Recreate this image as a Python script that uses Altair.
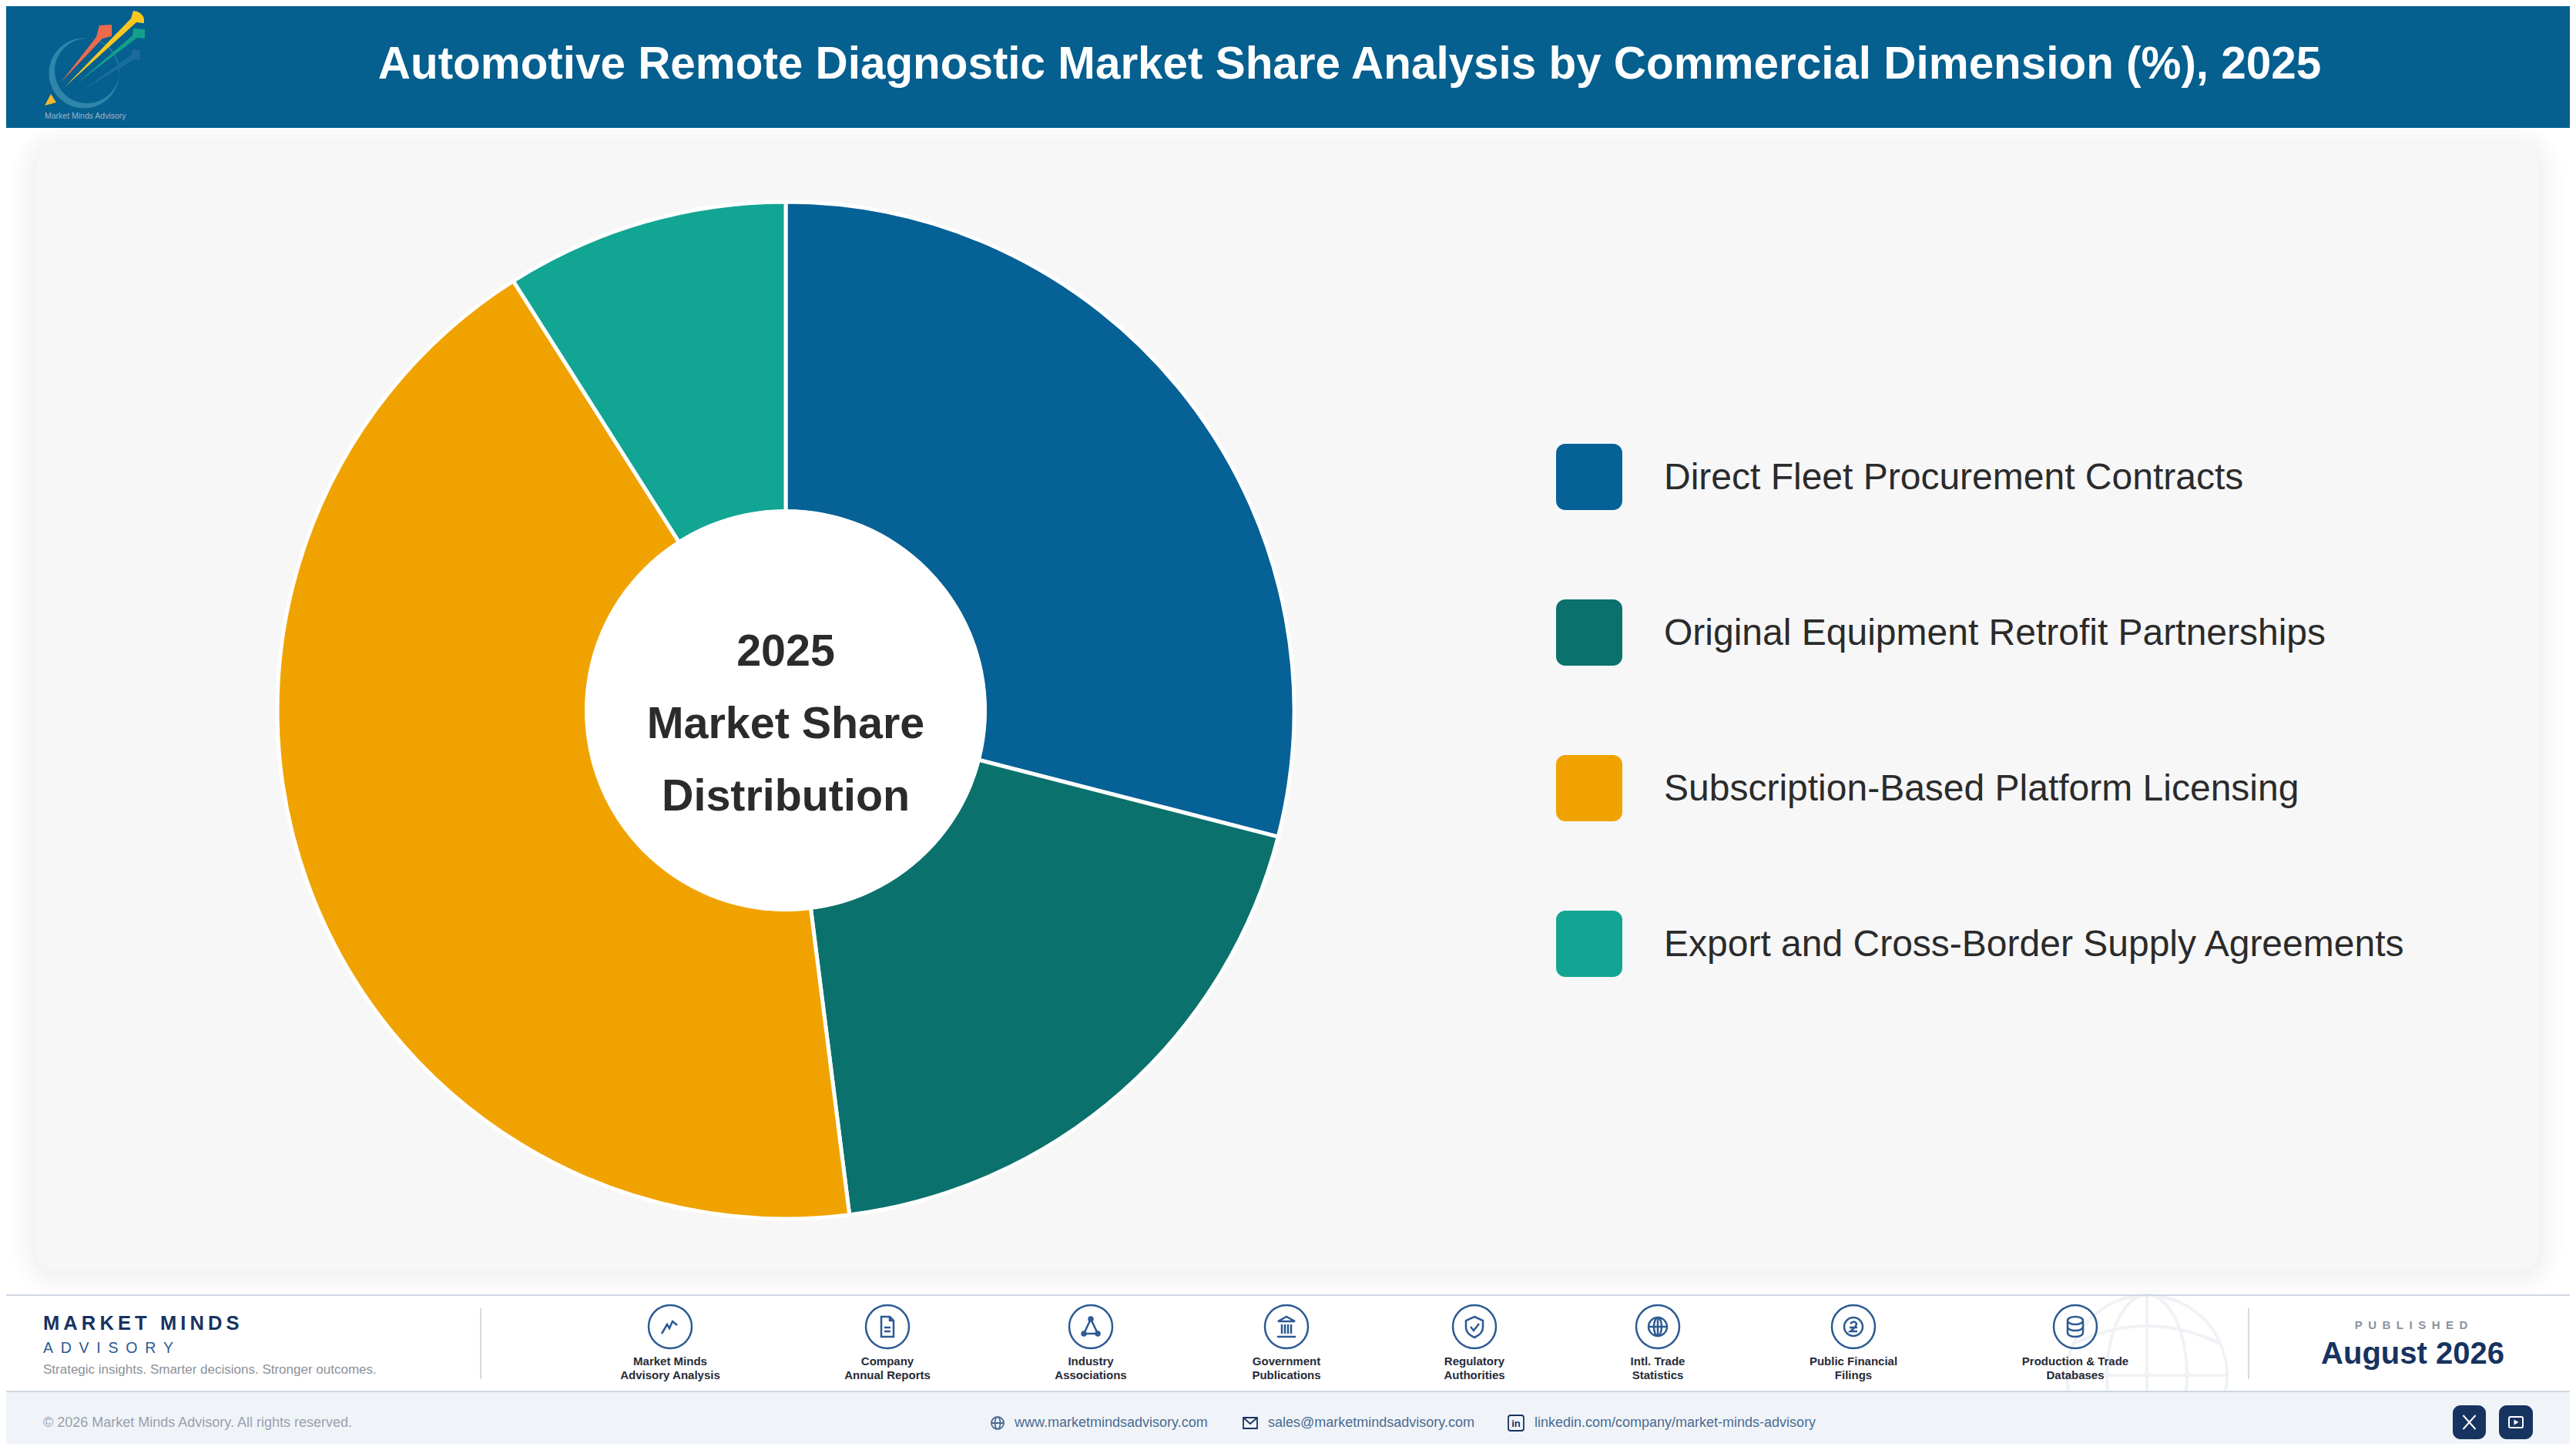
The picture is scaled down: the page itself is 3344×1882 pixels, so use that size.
"""Automotive remote diagnostic market share donut with report header and footer."""

import altair as alt
import pandas as pd

FONT = "Liberation Sans"
THIN = "\u2009"
EN = "\u2002"

# chart values
categories = [
    "Direct Fleet Procurement Contracts",
    "Original Equipment Retrofit Partnerships",
    "Subscription-Based Platform Licensing",
    "Export and Cross-Border Supply Agreements",
]
shares = [29, 19, 43, 9]
slice_colors = ["#066196", "#0B716C", "#F0A300", "#12A594"]

sources = [
    "Market Minds\nAdvisory Analysis",
    "Company\nAnnual Reports",
    "Industry\nAssociations",
    "Government\nPublications",
    "Regulatory\nAuthorities",
    "Intl. Trade\nStatistics",
    "Public Financial\nFilings",
    "Production & Trade\nDatabases",
]
source_x = [870, 1152, 1416, 1670, 1914, 2152, 2406, 2694]

# the page keeps an 8px margin, everything below is given in window pixels
MARGIN = 8
W, H = 3328, 1866
NAVY = "#17335F"
ICON = "#2C5A92"
GREY = "#8C919B"
LINK = "#4A6A90"
DARK = "#2B2B2B"


def box(x0, y0, x1, y1, color, radius=0, opacity=1.0):
    return alt.Chart().mark_rect(
        color=color, cornerRadius=radius, opacity=opacity
    ).encode(
        x=alt.value(x0 - MARGIN),
        x2=alt.value(x1 - MARGIN),
        y=alt.value(y0 - MARGIN),
        y2=alt.value(y1 - MARGIN),
    )


def label(text, x, y, size, color, weight="normal", align="left", line=None):
    props = dict(
        text=text,
        font=FONT,
        fontSize=size,
        fontWeight=weight,
        color=color,
        align=align,
        baseline="alphabetic",
    )
    if line:
        props.update(lineBreak="\n", lineHeight=line)
    return alt.Chart().mark_text(**props).encode(
        x=alt.value(x - MARGIN), y=alt.value(y - MARGIN)
    )


# size=4 keeps a custom symbol path at 1 unit = 1 pixel
def outline(path, x, y, color=ICON, width=2.5):
    return alt.Chart().mark_point(
        shape=path, size=4, filled=False, stroke=color, strokeWidth=width, opacity=1
    ).encode(x=alt.value(x - MARGIN), y=alt.value(y - MARGIN))


def solid(path, x, y, color=ICON):
    return alt.Chart().mark_point(
        shape=path, size=4, filled=True, fill=color, strokeWidth=0, opacity=1
    ).encode(x=alt.value(x - MARGIN), y=alt.value(y - MARGIN))


def ring(r, cx=0, cy=0, ry=None, sweep=1):
    ry = ry or r
    return (
        f"M{cx - r} {cy} A{r} {ry} 0 1 {sweep} {cx + r} {cy} "
        f"A{r} {ry} 0 1 {sweep} {cx - r} {cy} Z"
    )


layers = []

# page furniture
layers.append(box(MARGIN, MARGIN, W + MARGIN, 166, "#055F8F"))
for grow, alpha in [(30, 0.006), (24, 0.007), (18, 0.008), (12, 0.009), (6, 0.01)]:
    layers.append(
        box(47 - grow, 188 - grow + 4, 3296 + grow, 1649 + grow + 4, "#000000", 30 + grow, alpha)
    )
layers.append(box(47, 188, 3296, 1649, "#F7F7F8", 30))

# header logo
layers += [
    solid(ring(45.5, 109, 95) + " " + ring(42, 113, 92, sweep=0), 0, 0, "#2F86AA"),
    solid("M105 118 L170 72 L172 65 L182 65 L181 78 L175 77 Z", 0, 0, "#1B6BA3"),
    solid("M100 108 L172 46 L173 37 L188 38 L188 50 L178 49 Z", 0, 0, "#12A08A"),
    solid("M84 113 L170 24 L173 14 Q185 15 187 25 L187 30 L177 29 Z", 0, 0, "#F9C81E"),
    solid("M79 107 L125 48 L129 33 L145 32 L145 47 L133 50 Z", 0, 0, "#EE6A4D"),
    solid("M58 137 L66 122 L73 133 Z", 0, 0, "#F5B82A"),
    label("Market Minds Advisory", 58, 154, 10.5, "#9DB6CA"),
    label(
        "Automotive Remote Diagnostic Market Share Analysis by Commercial Dimension (%), 2025",
        1752, 102, 58.4, "#FFFFFF", "bold", "center",
    ),
]

# donut
df_share = pd.DataFrame(
    {"category": categories, "share": shares, "rank": range(len(categories))}
)
color_scale = alt.Scale(domain=categories, range=slice_colors)
donut = (
    alt.Chart(df_share)
    .mark_arc(radius=660, radius2=258, stroke="#FFFFFF", strokeWidth=5)
    .encode(
        theta=alt.Theta("share:Q", stack=True, scale=alt.Scale(domain=[0, 100])),
        color=alt.Color("category:N", scale=color_scale, legend=None),
        order=alt.Order("rank:Q"),
        x=alt.value(1020 - MARGIN),
        y=alt.value(922 - MARGIN),
    )
)
hole = (
    alt.Chart()
    .mark_point(shape="circle", size=522 * 522, filled=True, fill="#FFFFFF", opacity=1)
    .encode(x=alt.value(1020 - MARGIN), y=alt.value(922 - MARGIN))
)
layers += [
    donut,
    hole,
    label("2025\nMarket Share\nDistribution", 1020, 864, 57.4, DARK, "bold", "center", 94),
]

# legend
df_legend = df_share.assign(
    top=[576 - MARGIN + 202 * i for i in df_share["rank"]],
    bottom=[662 - MARGIN + 202 * i for i in df_share["rank"]],
    base=[635 - MARGIN + 202 * i for i in df_share["rank"]],
)
swatches = (
    alt.Chart(df_legend)
    .mark_rect(cornerRadius=12)
    .encode(
        x=alt.value(2020 - MARGIN),
        x2=alt.value(2106 - MARGIN),
        y=alt.Y("top:Q", scale=None, axis=None),
        y2="bottom:Q",
        color=alt.Color("category:N", scale=color_scale, legend=None),
    )
)
legend_text = (
    alt.Chart(df_legend)
    .mark_text(font=FONT, fontSize=48, color=DARK, align="left", baseline="alphabetic")
    .encode(
        x=alt.value(2160 - MARGIN),
        y=alt.Y("base:Q", scale=None, axis=None),
        text="category:N",
    )
)
layers += [swatches, legend_text]

# footer bands, the globe watermark stops at the lower band
GLOBE_X, GLOBE_Y = 2787, 1785
layers += [
    outline("M-101.9 21 A104 104 0 1 1 101.9 21", GLOBE_X, GLOBE_Y, "#F0F2F5", 4),
    outline("M-50.9 21 A52 104 0 1 1 50.9 21", GLOBE_X, GLOBE_Y, "#F0F2F5", 4),
    outline("M-97 -40 Q0 -88 97 -40 M-104 0 H104 M0 -104 V21", GLOBE_X, GLOBE_Y, "#F0F2F5", 4),
    box(MARGIN, 1806, W + MARGIN, H + MARGIN, "#F0F4F9"),
    box(MARGIN, 1680, W + MARGIN, 1682, "#D0D7E2"),
    box(MARGIN, 1805, W + MARGIN, 1807, "#D0D7E2"),
    box(623, 1698, 625, 1790, "#D5D9E0"),
    box(2918, 1698, 2920, 1790, "#D5D9E0"),
]

# brand block
layers += [
    label(THIN.join("MARKET MINDS"), 56, 1726, 25.5, NAVY, "bold"),
    label(EN.join("ADVISORY"), 56, 1756, 19.5, ICON),
    label("Strategic insights. Smarter decisions. Stronger outcomes.", 56, 1783, 17, GREY),
]

# source icons
source_paths = [
    ["M-11 9 L-4 -3 L-1 2 L3 -7 L9 -2"],
    ["M-8 -13 H3 L8 -8 V13 H-8 Z M3 -13 V-8 H8 M-4 1 H4 M-4 6 H4"],
    ["M0 -10 L-9 9 H9 Z", ring(2.5, 0, -10), ring(2.5, -9, 9), ring(2.5, 9, 9)],
    ["M-11 -7 L0 -13 L11 -7 Z M-6 -3 V9 M-2 -3 V9 M2 -3 V9 M6 -3 V9 M-12 13 H12"],
    ["M0 -13 L11 -8 V1 Q11 9 0 14 Q-11 9 -11 1 V-8 Z M-5 0 L-1 5 L6 -4"],
    [ring(12), ring(5, ry=12), "M-12 0 H12 M0 -12 V12"],
    [ring(12), "M-4 -4 Q1 -9 4 -4 Q4 0 -4 6 H5 M-5 1 H5"],
    [
        "M-10 -8 A10 5 0 1 1 10 -8 A10 5 0 1 1 -10 -8 M-10 -8 V8 A10 5 0 0 0 10 8 V-8 "
        "M-10 0 A10 5 0 0 0 10 0"
    ],
]
for name, x, paths in zip(sources, source_x, source_paths):
    layers.append(outline(ring(28), x, 1722))
    for path in paths:
        layers.append(outline(path, x, 1722))
    layers.append(label(name, x, 1772, 15, "#262B38", "bold", "center", 18))

# published block
layers += [
    label(EN.join("PUBLISHED"), 3130, 1725, 15, GREY, "bold", "center"),
    label("August 2026", 3132, 1770, 40, NAVY, "bold", "center"),
]

# bottom line
layers += [
    label("\u00a9 2026 Market Minds Advisory. All rights reserved.", 56, 1852, 18, "#9AA0AC"),
    outline(ring(8) + " " + ring(3.5, ry=8) + " M-8 0 H8", 1295, 1847, LINK, 1.8),
    label("www.marketmindsadvisory.com", 1317, 1852, 18, LINK),
    outline("M-9 -7 H9 V7 H-9 Z M-9 -7 L0 1 L9 -7", 1623, 1847, NAVY, 1.8),
    label("sales@marketmindsadvisory.com", 1646, 1852, 18, LINK),
    outline("M-7 -10 H7 Q10 -10 10 -7 V7 Q10 10 7 10 H-7 Q-10 10 -10 7 V-7 Q-10 -10 -7 -10 Z", 1968, 1847, NAVY, 1.8),
    label("in", 1968, 1852, 13, NAVY, "bold", "center"),
    label("linkedin.com/company/market-minds-advisory", 1992, 1852, 18, LINK),
    box(3184, 1824, 3227, 1868, NAVY, 10),
    box(3244, 1824, 3288, 1868, NAVY, 10),
    outline("M-8 -9 L8 9 M8 -9 L-8 9", 3205.5, 1846, "#FFFFFF", 2),
    outline("M-7 -7 H7 Q9 -7 9 -5 V5 Q9 7 7 7 H-7 Q-9 7 -9 5 V-5 Q-9 -7 -7 -7 Z", 3266, 1846, "#FFFFFF", 2),
    solid("M-2.5 -3.5 L3.5 0 L-2.5 3.5 Z", 3266, 1846, "#FFFFFF"),
]

chart = (
    alt.layer(*layers)
    .properties(width=W, height=H, padding=0, background="#FFFFFF")
    .configure_view(stroke=None)
)
chart.save("out.html", embed_options={"renderer": "svg", "actions": False})
